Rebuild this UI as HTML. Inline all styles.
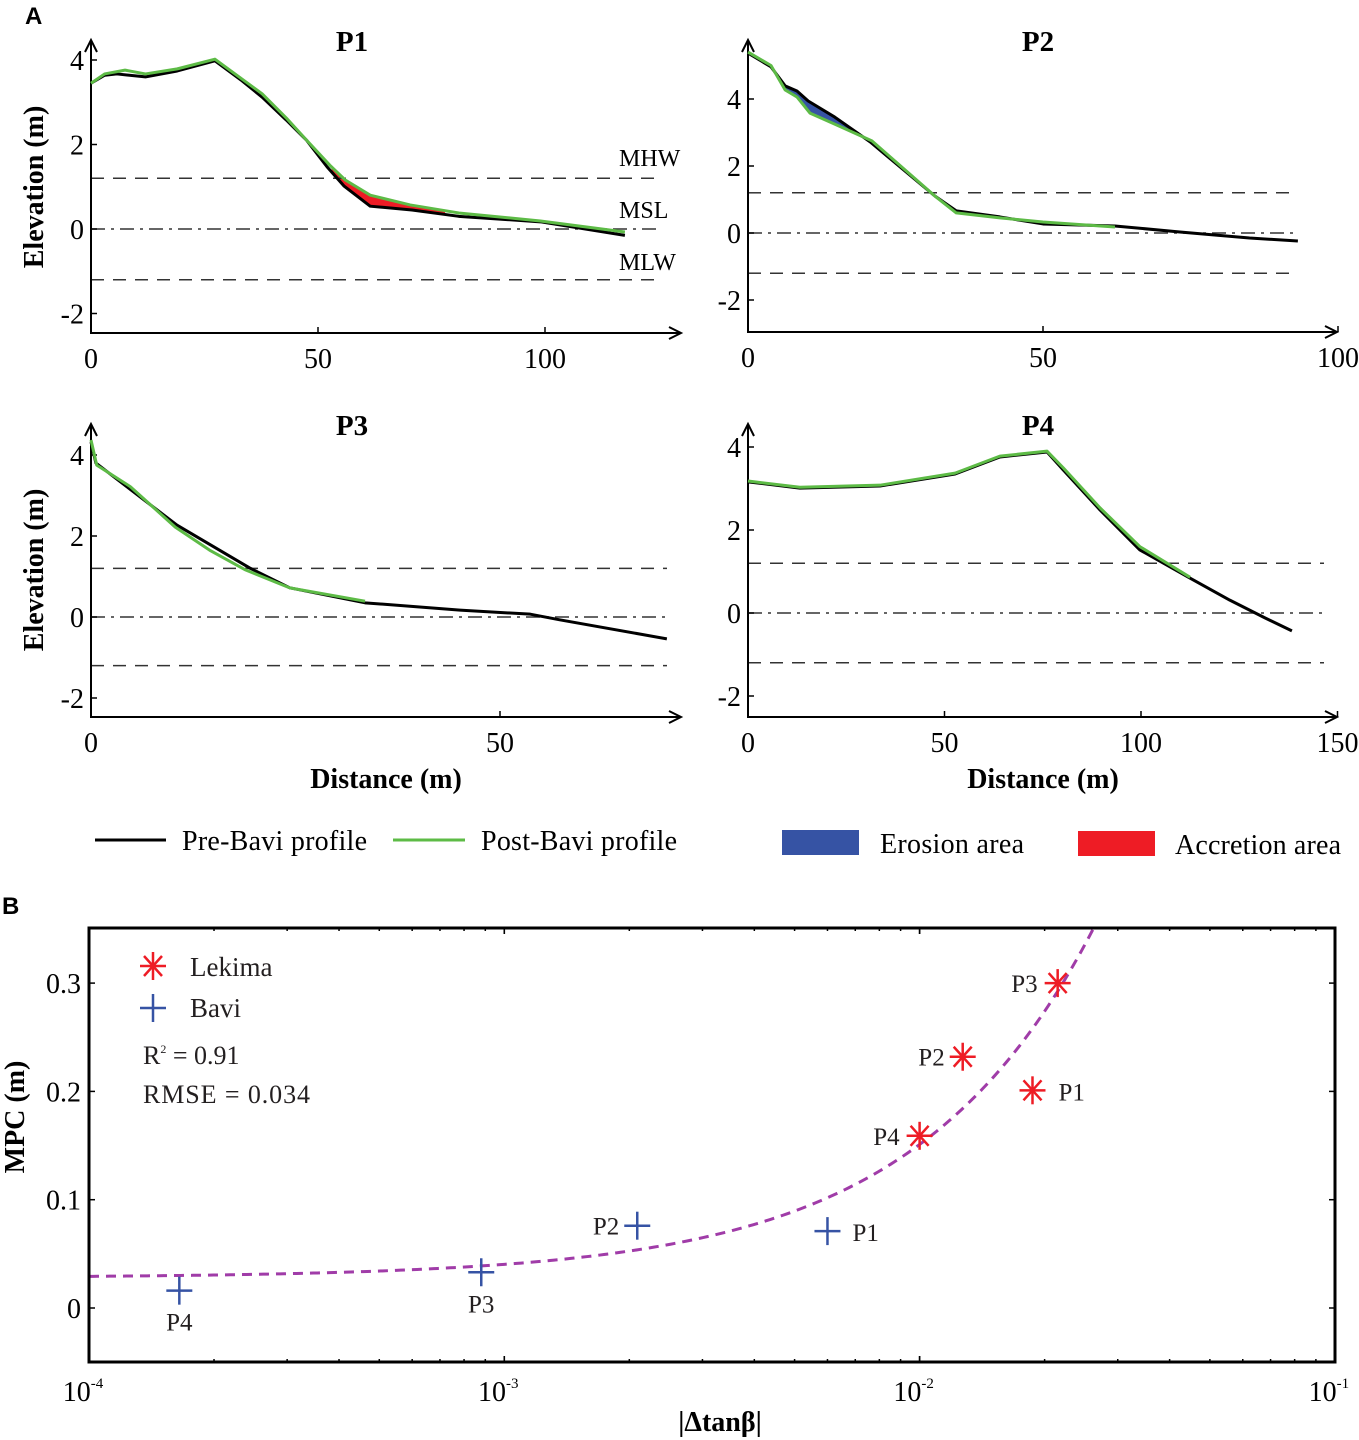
<!DOCTYPE html>
<html><head><meta charset="utf-8"><style>
html,body{margin:0;padding:0;background:#fff;}
svg{display:block;font-family:"Liberation Serif",serif;}
</style></head><body>
<svg id="fig" width="1359" height="1440" viewBox="0 0 1359 1440" xmlns="http://www.w3.org/2000/svg">
<text x="25" y="24" font-family="Liberation Sans,sans-serif" font-weight="bold" font-size="24">A</text>
<text x="2" y="914" font-family="Liberation Sans,sans-serif" font-weight="bold" font-size="24">B</text>
<g>
<line x1="95" y1="840" x2="166" y2="840" stroke="#000" stroke-width="3"/>
<text x="182" y="850" font-size="28" textLength="185">Pre-Bavi profile</text>
<line x1="393" y1="840" x2="465" y2="840" stroke="#5dbb46" stroke-width="3"/>
<text x="481" y="850" font-size="28" textLength="196">Post-Bavi profile</text>
<rect x="782" y="830" width="77" height="25" fill="#3653a4"/>
<text x="880" y="853" font-size="28" textLength="144">Erosion area</text>
<rect x="1078" y="831" width="77" height="25" fill="#ee1c25"/>
<text x="1175" y="854" font-size="28" textLength="166">Accretion area</text>
</g>
</svg>
<script>
// ---- Panel A data ----
const p1PreX=[0,3,5.7,12,19,27.3,33,37.7,43,47.5,52,55.7,61.5,70.7,81,99,117.6];
const p1PreY=[3.45,3.64,3.67,3.6,3.74,3.98,3.53,3.12,2.58,2.1,1.47,1.02,0.54,0.45,0.3,0.17,-0.15];
const p1PostX=[0,3,7.5,12,19,27.3,33,37.7,43,47.5,52.6,56,61.5,70.3,81,99,117.6];
const p1PostY=[3.45,3.67,3.76,3.67,3.79,4.02,3.57,3.2,2.63,2.1,1.51,1.16,0.8,0.57,0.38,0.19,-0.07];
const p2PreX=[0,3.9,6.3,8.3,10.2,14.7,20.7,31.7,35.3,42.7,50,62.2,73.2,85,93.2];
const p2PreY=[5.37,4.96,4.39,4.24,3.94,3.46,2.72,1.1,0.66,0.48,0.27,0.21,0.03,-0.15,-0.24];
const p2PostX=[0,3.9,6.3,8.3,10.5,14.7,21,31.7,35.3,42.7,50,62.2];
const p2PostY=[5.4,5.0,4.27,4.06,3.58,3.25,2.75,1.1,0.6,0.45,0.33,0.18];
const p3PreX=[0,0.6,10.5,19.5,24.3,33.5,45.1,53.7,57.3,70.4];
const p3PreY=[4.32,3.8,2.27,1.2,0.72,0.35,0.17,0.07,-0.07,-0.54];
const p3PostX=[0,0.7,4.8,10.3,14.5,18.8,24.3,33.5];
const p3PostY=[4.37,3.75,3.22,2.22,1.65,1.17,0.72,0.39];
const p4PreX=[0,13.2,33.6,52.7,64.1,76.1,80.2,89.6,99.7,112.5,122.6,131.6,138.4];
const p4PreY=[3.16,3.01,3.06,3.35,3.76,3.88,3.45,2.48,1.52,0.84,0.31,-0.12,-0.43];
const p4PostX=[0,13.2,33.6,52.7,64.1,76.1,80.2,89.6,99.7,112.5];
const p4PostY=[3.18,3.03,3.08,3.37,3.78,3.9,3.5,2.53,1.6,0.86];
const tideLevels=[1.2,0,-1.2];
const yTicksA=[-2,0,2,4];
const p1XTicks=[0,50,100], p2XTicks=[0,50,100], p3XTicks=[0,50], p4XTicks=[0,50,100,150];
const p2YTicks=[-2,0,2,4];
const accretionRange=[53,78], erosionRange=[4,21];

// ---- Panel B data ----
const sites=["P1","P2","P3","P4"];
const baviX=[6.0e-3,2.09e-3,8.8e-4,1.65e-4];
const baviY=[0.071,0.076,0.033,0.016];
const lekimaX=[1.87e-2,1.27e-2,2.15e-2,1.0e-2];
const lekimaY=[0.201,0.232,0.30,0.159];
const fitCoef=[0.028,12.3];
const yTicksB=[0,0.1,0.2,0.3];
const xTickExpB=[-4,-3,-2,-1];

const NS="http://www.w3.org/2000/svg";
const svg=document.getElementById('fig');
function mk(tag,attrs,parent){const e=document.createElementNS(NS,tag);for(const k in attrs)e.setAttribute(k,attrs[k]);(parent||svg).appendChild(e);return e;}
function txt(x,y,s,attrs,parent){const t=mk('text',Object.assign({x:x,y:y},attrs||{}),parent);t.textContent=s;return t;}
function interp(xs,ys,x){for(let i=0;i<xs.length-1;i++){if(x>=xs[i]&&x<=xs[i+1]){const f=(x-xs[i])/(xs[i+1]-xs[i]);return ys[i]+f*(ys[i+1]-ys[i]);}}return ys[ys.length-1];}

function profile(cfg){
  const g=mk('g',{});
  
  
  const sx=v=>cfg.x0+v*cfg.kx, sy=v=>cfg.y0-v*cfg.ky;
  if(cfg.fill){
    const [a,b]=cfg.fill.range;const pts=[];
    for(let x=a;x<=b;x+=0.25)pts.push(sx(x)+','+sy(interp(cfg.postX,cfg.postY,x)));
    for(let x=b;x>=a;x-=0.25)pts.push(sx(x)+','+sy(interp(cfg.preX,cfg.preY,x)));
    const p=mk('polygon',{points:pts.join(' '),fill:cfg.fill.color},g);
    
    
  }
  tideLevels.forEach((lv,i)=>{
    const l=mk('line',{x1:cfg.x0,x2:cfg.lineEnd,y1:sy(lv),y2:sy(lv),stroke:'#333','stroke-width':1.5,'stroke-dasharray':i==1?'14,6,3,6':'13,9'},g);
    
    
  });
  const ax=mk('path',{d:`M${cfg.x0},${cfg.top} V${cfg.bottom} H${cfg.right} M${cfg.x0-6},${cfg.top+12} L${cfg.x0},${cfg.top} L${cfg.x0+6},${cfg.top+12} M${cfg.right-12},${cfg.bottom-6} L${cfg.right},${cfg.bottom} L${cfg.right-12},${cfg.bottom+6}`,fill:'none',stroke:'#000','stroke-width':2},g);
  
  
  cfg.yTicks.forEach(v=>{
    mk('line',{x1:cfg.x0,x2:cfg.x0+6,y1:sy(v),y2:sy(v),stroke:'#000','stroke-width':1.5},g);
    const t=txt(cfg.x0-7,sy(v)+10,String(v),{'font-size':28,'text-anchor':'end'},g);
    
    
  });
  cfg.xTicks.forEach(v=>{
    mk('line',{x1:sx(v),x2:sx(v),y1:cfg.bottom,y2:cfg.bottom-6,stroke:'#000','stroke-width':1.5},g);
    const t=txt(sx(v),cfg.bottom+35,String(v),{'font-size':28,'text-anchor':'middle'},g);
    
    
  });
  const pre=mk('polyline',{points:cfg.preX.map((x,i)=>sx(x)+','+sy(cfg.preY[i])).join(' '),fill:'none',stroke:'#000','stroke-width':3,'stroke-linejoin':'round'},g);
  
  
  const post=mk('polyline',{points:cfg.postX.map((x,i)=>sx(x)+','+sy(cfg.postY[i])).join(' '),fill:'none',stroke:'#5dbb46','stroke-width':3,'stroke-linejoin':'round'},g);
  
  
  const ti=txt(cfg.titleX,cfg.top+11,cfg.title,{'font-size':29,'font-weight':'bold','text-anchor':'middle'},g);
  
  
  return g;
}
profile({name:'profile-p1',title:'P1',titleX:352,x0:91,kx:4.54,y0:229,ky:42.25,top:40,bottom:333,right:681,lineEnd:660,preX:p1PreX,preY:p1PreY,postX:p1PostX,postY:p1PostY,yTicks:yTicksA,xTicks:p1XTicks,fill:{range:accretionRange,color:'#ee1c25',name:'accretion-area'}});
profile({name:'profile-p2',title:'P2',titleX:1038,x0:748,kx:5.9,y0:233,ky:33.5,top:40,bottom:332,right:1337,lineEnd:1296,preX:p2PreX,preY:p2PreY,postX:p2PostX,postY:p2PostY,yTicks:p2YTicks,xTicks:p2XTicks,fill:{range:erosionRange,color:'#3653a4',name:'erosion-area'}});
profile({name:'profile-p3',title:'P3',titleX:352,x0:91,kx:8.18,y0:617,ky:40.5,top:424,bottom:717,right:681,lineEnd:667,preX:p3PreX,preY:p3PreY,postX:p3PostX,postY:p3PostY,yTicks:yTicksA,xTicks:p3XTicks});
profile({name:'profile-p4',title:'P4',titleX:1038,x0:748,kx:3.93,y0:613,ky:41.5,top:424,bottom:717,right:1337,lineEnd:1324,preX:p4PreX,preY:p4PreY,postX:p4PostX,postY:p4PostY,yTicks:yTicksA,xTicks:p4XTicks});
[['MHW',166],['MSL',218],['MLW',270]].forEach(a=>{const t=txt(619,a[1],a[0],{'font-size':24});});
[[187],[570]].forEach(a=>{const t=txt(0,0,'Elevation (m)',{'font-size':28,'font-weight':'bold','text-anchor':'middle',transform:`translate(43,${a[0]}) rotate(-90)`});});
[386,1043].forEach(x=>{const t=txt(x,788,'Distance (m)',{'font-size':28,'font-weight':'bold','text-anchor':'middle'});});

// ---- Panel B ----
const BL=89,BR=1335,BT=928,BB=1362;
const bx=v=>BL+(Math.log10(v)+4)*415.3;
const by=v=>1308-v*1083;
const gb=mk('g',{});


const clip=mk('clipPath',{id:'bclip'},gb);mk('rect',{x:BL,y:BT,width:BR-BL,height:BB-BT},clip);
for(let e=-4;e<-1;e++){for(let m=1;m<=10;m++){const v=m*Math.pow(10,e);const x=bx(v);const len=m==1||m==10?6:3;
mk('line',{x1:x,x2:x,y1:BB,y2:BB-len,stroke:'#000','stroke-width':1.5},gb);mk('line',{x1:x,x2:x,y1:BT,y2:BT+len,stroke:'#000','stroke-width':1.5},gb);}}
yTicksB.forEach(v=>{mk('line',{x1:BL,x2:BL+6,y1:by(v),y2:by(v),stroke:'#000','stroke-width':1.5},gb);mk('line',{x1:BR,x2:BR-6,y1:by(v),y2:by(v),stroke:'#000','stroke-width':1.5},gb);
const t=txt(BL-8,by(v)+10,String(v),{'font-size':28,'text-anchor':'end'},gb);});
xTickExpB.forEach(e=>{const t=txt(bx(Math.pow(10,e))-6,1401,'10',{'font-size':28,'text-anchor':'middle'},gb);const s=mk('tspan',{dy:-13,'font-size':15},t);s.textContent=String(e);
});
const fp=[];for(let l=-4;l<=-1;l+=0.01){const v=Math.pow(10,l);fp.push(bx(v)+','+by(fitCoef[0]+fitCoef[1]*v));}
const fit=mk('polyline',{points:fp.join(' '),fill:'none',stroke:'#a03ca8','stroke-width':3,'stroke-dasharray':'10,7','clip-path':'url(#bclip)'},gb);


function plus(x,y,c,name){const g=mk('g',{stroke:c,'stroke-width':2.5},gb);mk('line',{x1:x-13,x2:x+13,y1:y,y2:y},g);mk('line',{x1:x,x2:x,y1:y-14,y2:y+14},g);return g;}
function star(x,y,c,name){const g=mk('g',{stroke:c,'stroke-width':2.5},gb);mk('line',{x1:x-13,x2:x+13,y1:y,y2:y},g);mk('line',{x1:x,x2:x,y1:y-14,y2:y+14},g);mk('line',{x1:x-9,x2:x+9,y1:y-10,y2:y+10},g);mk('line',{x1:x-9,x2:x+9,y1:y+10,y2:y-10},g);return g;}
const bLab={P1:[25,10,'start'],P2:[-18,9,'end'],P3:[0,40,'middle'],P4:[0,40,'middle']};
const lLab={P1:[26,10,'start'],P2:[-18,9,'end'],P3:[-20,9,'end'],P4:[-20,9,'end']};
sites.forEach((s,i)=>{const x=bx(baviX[i]),y=by(baviY[i]);plus(x,y,'#3653a4','bavi-point-'+s.toLowerCase());const o=bLab[s];const t=txt(x+o[0],y+o[1],s,{'font-size':25,fill:'#231f20','text-anchor':o[2]},gb);});
sites.forEach((s,i)=>{const x=bx(lekimaX[i]),y=by(lekimaY[i]);star(x,y,'#ee1c25','lekima-point-'+s.toLowerCase());const o=lLab[s];const t=txt(x+o[0],y+o[1],s,{'font-size':25,fill:'#231f20','text-anchor':o[2]},gb);});
const box=mk('rect',{x:BL,y:BT,width:BR-BL,height:BB-BT,fill:'none',stroke:'#000','stroke-width':3},gb);


star(153,966,'#ee1c25','legend-lekima-marker');
const tl=txt(190,976,'Lekima',{'font-size':27,fill:'#231f20'});
plus(153,1008,'#3653a4','legend-bavi-marker');
const tb=txt(190,1017,'Bavi',{'font-size':27,fill:'#231f20'});
const r2=txt(143,1064,'R',{'font-size':26,fill:'#231f20'});const sp=mk('tspan',{dy:-11,'font-size':12},r2);sp.textContent='2';const sp2=mk('tspan',{dy:11},r2);sp2.textContent=' = 0.91';

const rm=txt(143,1103,'RMSE = 0.034',{'font-size':26,fill:'#231f20',textLength:167});
const yb=txt(0,0,'MPC (m)',{'font-size':28,'font-weight':'bold','text-anchor':'middle',transform:'translate(24,1117) rotate(-90)'});
const xb=txt(720,1431,'|Δtanβ|',{'font-size':28,'font-weight':'bold','text-anchor':'middle'});
</script>
</body></html>
